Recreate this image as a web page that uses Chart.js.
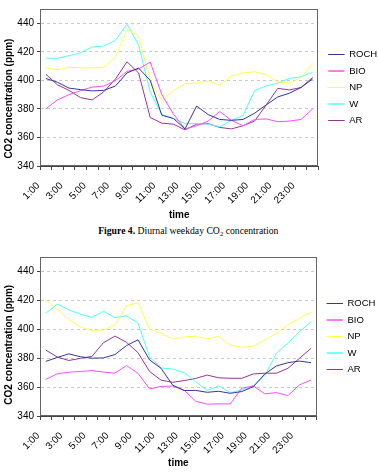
<!DOCTYPE html>
<html>
<head>
<meta charset="utf-8">
<script src="https://cdn.jsdelivr.net/npm/chart.js@4.4.1/dist/chart.umd.min.js"></script>
<style>
  body { margin: 0; background: #fff; }
  #page { position: relative; width: 378px; height: 473px; background: #fff; }
  #caption { position: absolute; left: 0; top: 224.7px; width: 376.6px; text-align: center;
    font: 9.7px/12px 'Liberation Serif', 'Times New Roman', serif; color: #000; }
  #caption sub { font-size: 70%; line-height: 0; vertical-align: -0.25em; }
</style>
</head>
<body>
<div id="page">
  <canvas id="weekday" width="378" height="221" style="position:absolute;left:0;top:0"></canvas>
  <div id="caption"><b>Figure 4.</b> Diurnal weekday CO<sub>2</sub> concentration</div>
  <canvas id="weekend" width="378" height="235" style="position:absolute;left:0;top:238px"></canvas>
</div>
<script>
const hours = ['1:00','2:00','3:00','4:00','5:00','6:00','7:00','8:00','9:00','10:00','11:00','12:00',
  '13:00','14:00','15:00','16:00','17:00','18:00','19:00','20:00','21:00','22:00','23:00','24:00'];
const sites = ['ROCH', 'BIO', 'NP', 'W', 'AR'];
const colors = ['#35359a', '#ff4cff', '#ffff4c', '#4cffff', '#963596'];

// top chart (weekday)
const rochWeekday = [401.3, 398.7, 394.6, 393.5, 392.6, 393, 396, 405.2, 408.6, 400, 375.6, 373.3, 366, 382, 376, 372.6, 372, 372.6, 377, 382.8, 388.4, 391, 395, 401];
const bioWeekday  = [380, 386.3, 390, 392.8, 395.3, 396, 399.8, 406.3, 408, 412.8, 390, 376.4, 366, 368.2, 371.5, 378.2, 372, 368.2, 372.6, 373, 371, 371.5, 372.6, 380];
const npWeekday   = [408.8, 407.4, 409.2, 408.8, 408.8, 409.2, 416, 435.5, 431, 400, 386, 392.9, 397.8, 398, 399.6, 396.6, 403, 405.2, 406.1, 404, 398.9, 398, 401.8, 412];
const wWeekday    = [415.5, 415.5, 417.3, 419.3, 423.4, 424, 428, 439.3, 424.5, 391.7, 376, 373.3, 369.7, 369.7, 369.3, 367.5, 372, 375.3, 392.8, 396.2, 398, 401.4, 402.5, 405.7];
const arWeekday   = [404.3, 396.9, 393, 387.9, 386.3, 392, 400.9, 413, 405.2, 374, 370, 369.3, 365.3, 369.3, 369.7, 367, 366, 368.2, 371.5, 382.8, 394.4, 393.3, 395, 402];

// bottom chart
const rochWeekend = [377.8, 380.5, 383, 381, 380, 380.2, 382.5, 388.7, 392.7, 378.8, 373, 361.4, 357.6, 357.7, 356.4, 357.1, 355.7, 356.9, 360.3, 369.1, 374.6, 376.9, 378, 376.9];
const bioWeekend  = [365.3, 369.2, 370.3, 370.8, 371.4, 370.4, 369.7, 374.9, 369.5, 358.7, 360.5, 360.7, 357.8, 350.2, 348.2, 348.4, 348.4, 359.2, 360.8, 355.3, 356.2, 354.1, 361.5, 364.9];
const npWeekend   = [419.8, 414, 406.8, 401.6, 399.2, 399.5, 403, 416.3, 418.4, 400.1, 397.3, 393.2, 394.7, 395.2, 393.3, 395.2, 389, 387.5, 388.4, 392.6, 397.2, 403, 407.5, 412];
const wWeekend    = [411.1, 417.4, 413.4, 410.5, 408.2, 412.5, 408.1, 409.3, 404.4, 380.8, 373.2, 372.5, 370, 363.7, 357.7, 360.8, 356.2, 358, 360.8, 368, 383.4, 390.3, 398.3, 405.2];
const arWeekend   = [385.6, 380.8, 378.4, 379.9, 381.2, 390.7, 395.3, 391, 383.8, 370.8, 364.8, 363.3, 364.5, 366, 368.3, 366.4, 366.1, 366.1, 369.1, 369.6, 369.6, 373, 379.9, 386.8];

const yTicks = { min: 340, max: 450, step: 20 };

Chart.defaults.font.family = "'Liberation Sans', Arial, sans-serif";
Chart.defaults.font.size = 10;
Chart.defaults.color = '#000';

// grey frame round the plot area, like the excel plot area border
const plotBorder = {
  id: 'plotBorder',
  beforeDatasetsDraw(chart) {
    const { ctx, chartArea: a } = chart;
    ctx.save();
    ctx.strokeStyle = '#666';
    ctx.lineWidth = 1;
    ctx.strokeRect(Math.round(a.left) + 0.5, Math.round(a.top) + 0.5,
      Math.round(a.right - a.left) - 1, Math.round(a.bottom - a.top) - 1);
    ctx.restore();
  }
};

function makeChart(id, series, lay) {
  const ctx = document.getElementById(id).getContext('2d');
  return new Chart(ctx, {
    type: 'line',
    data: {
      labels: hours,
      datasets: series.map((vals, i) => ({
        label: sites[i],
        data: vals,
        borderColor: colors[i],
        backgroundColor: colors[i],
        borderWidth: 1,
        pointRadius: 0,
        tension: 0
      }))
    },
    options: {
      responsive: false,
      animation: false,
      layout: { padding: { top: lay.top, right: lay.right, bottom: 0, left: 0 } },
      plugins: {
        legend: {
          position: 'right',
          fullSize: false,
          labels: { boxWidth: 16, boxHeight: 0, padding: 7, font: { size: 9.5 }, color: '#000' }
        },
        tooltip: { enabled: false }
      },
      scales: {
        x: {
          offset: true,
          grid: { offset: true, drawOnChartArea: false, tickLength: 4, tickColor: '#444' },
          border: { color: '#444' },
          ticks: {
            autoSkip: false, minRotation: 45, maxRotation: 45, padding: 10, labelOffset: -7.5,
            callback: (v, i) => (i % 2 === 0 ? hours[i] : '')
          },
          title: { display: true, text: 'time', font: { weight: 'bold', size: 10 }, padding: { top: 0, bottom: lay.titleBottom } },
          afterFit: s => { s.height = lay.xHeight; }
        },
        y: {
          min: yTicks.min,
          max: yTicks.max,
          ticks: { stepSize: yTicks.step, includeBounds: false, padding: 3 },
          grid: { color: '#c8c8c8', tickLength: 3, tickColor: '#444' },
          border: { color: '#444', dash: [3, 3] },
          title: { display: true, text: lay.yTitle, font: { weight: 'bold', size: 10 }, padding: { top: 3, bottom: 0 } },
          afterFit: s => { s.width = 40; }
        },
        y2: {
          position: 'right',
          grid: { display: false },
          ticks: { display: false },
          border: { display: false },
          afterFit: s => { s.width = 3; }
        }
      }
    },
    plugins: [plotBorder]
  });
}

makeChart('weekday', [rochWeekday, bioWeekday, npWeekday, wWeekday, arWeekday],
  { top: 4, right: -7.7, xHeight: 55, titleBottom: 0, yTitle: 'CO2 concentration (ppm)        ' });
makeChart('weekend', [rochWeekend, bioWeekend, npWeekend, wWeekend, arWeekend],
  { top: 19, right: -5.7, xHeight: 57, titleBottom: 4, yTitle: 'CO2 concentration (ppm)      ' });
</script>
</body>
</html>
